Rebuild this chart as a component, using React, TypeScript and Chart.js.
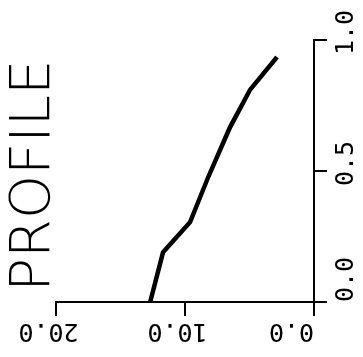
import React, { useEffect, useRef } from "react";
import { Chart, registerables } from "chart.js";

Chart.register(...registerables);

// Data: profile value (0–20) vs. normalised position (0–1)
const positions = [0, 0.19, 0.305, 0.477, 0.668, 0.81, 0.935];
const profileValues = [12.7, 11.7, 9.6, 8.2, 6.5, 4.96, 2.87];
const titleText = "PROFILE";
const positionTicks = [0, 0.5, 1.0];
const valueTicks = [0, 10, 20];

const FONT = "'DejaVu Sans Mono', 'Liberation Mono', monospace";
const TITLE_FONT = "'DejaVu Sans', sans-serif";

export default function App() {
  const ref = useRef<HTMLCanvasElement | null>(null);

  useEffect(() => {
    if (!ref.current) return;
    const data = positions.map((p, i) => ({ x: p, y: profileValues[i] }));
    const chart = new Chart(ref.current, {
      type: "line",
      data: {
        datasets: [
          {
            data,
            borderColor: "#000",
            borderWidth: 4.5,
            pointRadius: 0,
            tension: 0,
            fill: false,
          },
        ],
      },
      options: {
        responsive: false,
        animation: false,
        events: [],
        layout: { padding: { left: 0, right: 40, top: 0, bottom: 0 } },
        plugins: {
          legend: { display: false },
          tooltip: { enabled: false },
          title: {
            display: true,
            fullSize: false,
            text: titleText + "\u2006",
            color: "#000",
            font: { family: TITLE_FONT, size: 56, weight: 200, lineHeight: 1 },
            padding: { top: 6, bottom: -6 },
          },
        },
        scales: {
          x: {
            type: "linear",
            position: "bottom",
            min: positionTicks[0],
            max: positionTicks[positionTicks.length - 1],
            afterBuildTicks: (s: any) => {
              s.ticks = positionTicks.map((v) => ({ value: v }));
            },
            afterFit: (s: any) => {
              s.height = 49;
            },
            border: { display: true, color: "#000", width: 2 },
            grid: {
              drawOnChartArea: false,
              drawTicks: true,
              tickLength: 13,
              color: "#000",
              tickColor: "#000",
              lineWidth: 2,
              tickWidth: 2,
            },
            ticks: {
              autoSkip: false,
              maxRotation: 0,
              minRotation: 0,
              padding: 4,
              labelOffset: 7.5,
              color: "#000",
              font: { family: FONT, size: 25 },
              callback: (v: any) => (Number(v) === 0 ? "  0.0" : Number(v).toFixed(1)),
            },
          },
          y: {
            type: "linear",
            position: "left",
            min: valueTicks[0],
            max: valueTicks[valueTicks.length - 1],
            afterBuildTicks: (s: any) => {
              s.ticks = valueTicks.map((v) => ({ value: v }));
            },
            afterFit: (s: any) => {
              s.width = 55;
            },
            border: { display: true, color: "#000", width: 2 },
            grid: {
              drawOnChartArea: false,
              drawTicks: true,
              tickLength: 14,
              color: "#000",
              tickColor: "#000",
              lineWidth: 2,
              tickWidth: 2,
            },
            ticks: {
              autoSkip: false,
              minRotation: 90,
              maxRotation: 90,
              crossAlign: "center",
              padding: -23.6,
              labelOffset: -7.5,
              color: "#000",
              font: { family: FONT, size: 25 },
              callback: (v: any) => (Number(v) === 0 ? "  0.0" : Number(v).toFixed(1)),
            },
          },
        },
      },
    });
    return () => chart.destroy();
  }, []);

  return (
    <div
      style={{
        position: "fixed",
        left: 0,
        top: 0,
        width: 363,
        height: 357,
        overflow: "hidden",
        background: "#fff",
      }}
    >
      <canvas
        ref={ref}
        width={357}
        height={363}
        style={{
          position: "absolute",
          left: 0,
          top: 0,
          width: 357,
          height: 363,
          transformOrigin: "0 0",
          transform: "translate(0px, 357px) rotate(-90deg)",
        }}
      />
    </div>
  );
}
